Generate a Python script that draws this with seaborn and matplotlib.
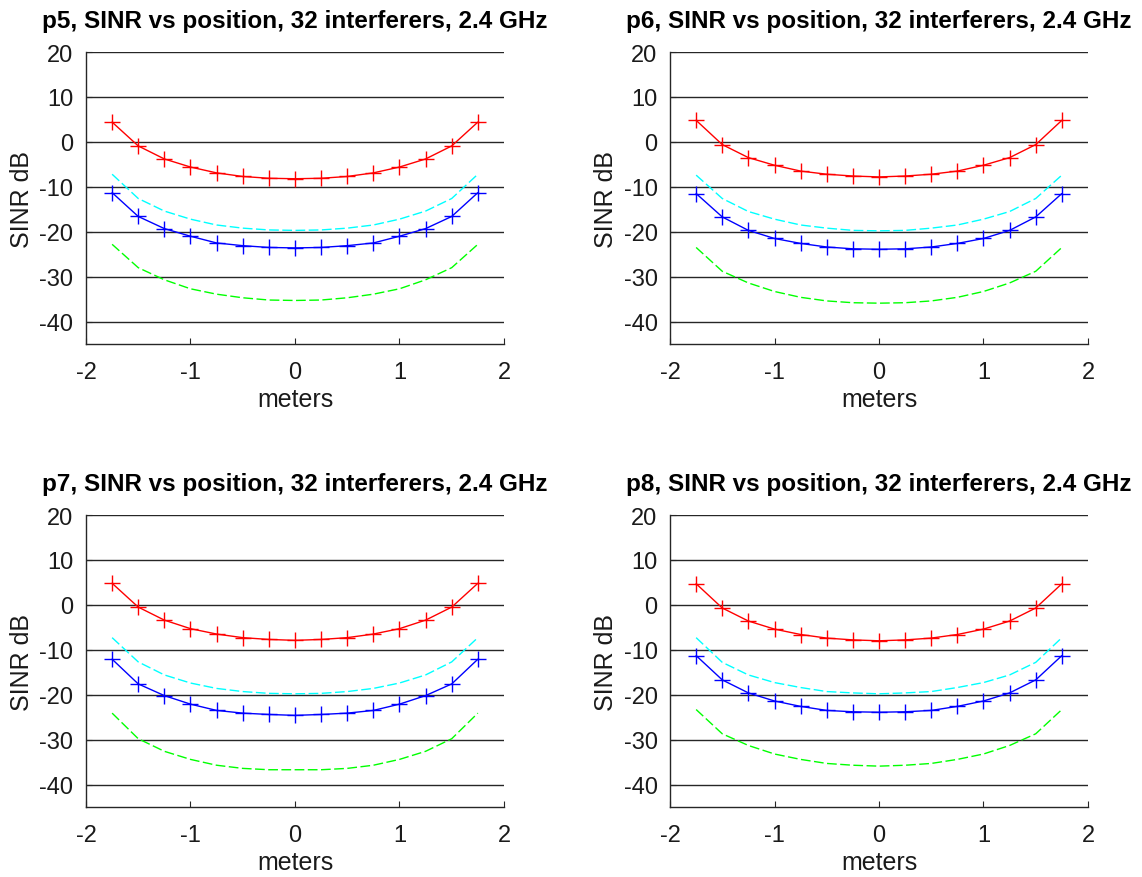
import numpy as np
import pandas as pd
import matplotlib
matplotlib.use("Agg")
import matplotlib.pyplot as plt
import seaborn as sns

positions = [-1.75, -1.5, -1.25, -1.0, -0.75, -0.5, -0.25, 0.0, 0.25, 0.5, 0.75, 1.0, 1.25, 1.5, 1.75]

panel_titles = ["p5, SINR vs position, 32 interferers, 2.4 GHz",
                "p6, SINR vs position, 32 interferers, 2.4 GHz",
                "p7, SINR vs position, 32 interferers, 2.4 GHz",
                "p8, SINR vs position, 32 interferers, 2.4 GHz"]

red_p5 = [4.4, -0.9, -3.8, -5.6, -6.9, -7.7, -8.1, -8.2, -8.1, -7.7, -6.9, -5.6, -3.8, -0.9, 4.4]
blue_p5 = [-11.3, -16.6, -19.3, -21.0, -22.5, -23.1, -23.5, -23.6, -23.5, -23.1, -22.5, -21.0, -19.3, -16.6, -11.3]
cyan_p5 = [-7.2, -12.6, -15.4, -17.2, -18.5, -19.2, -19.6, -19.7, -19.6, -19.2, -18.5, -17.2, -15.4, -12.6, -7.2]
green_p5 = [-22.8, -28.0, -30.7, -32.7, -33.9, -34.7, -35.2, -35.3, -35.2, -34.7, -33.9, -32.7, -30.7, -28.0, -22.8]

red_p6 = [4.8, -0.6, -3.5, -5.2, -6.5, -7.2, -7.6, -7.8, -7.6, -7.2, -6.5, -5.2, -3.5, -0.6, 4.8]
blue_p6 = [-11.5, -16.7, -19.7, -21.5, -22.6, -23.4, -23.8, -23.9, -23.8, -23.4, -22.6, -21.5, -19.7, -16.7, -11.5]
cyan_p6 = [-7.4, -12.6, -15.5, -17.2, -18.5, -19.2, -19.7, -19.8, -19.7, -19.2, -18.5, -17.2, -15.5, -12.6, -7.4]
green_p6 = [-23.5, -28.8, -31.4, -33.3, -34.6, -35.4, -35.8, -35.9, -35.8, -35.4, -34.6, -33.3, -31.4, -28.8, -23.5]

red_p7 = [4.8, -0.5, -3.4, -5.3, -6.5, -7.3, -7.7, -7.9, -7.7, -7.3, -6.5, -5.3, -3.4, -0.5, 4.8]
blue_p7 = [-12.1, -17.6, -20.2, -22.1, -23.5, -24.1, -24.4, -24.6, -24.4, -24.1, -23.5, -22.1, -20.2, -17.6, -12.1]
cyan_p7 = [-7.3, -12.7, -15.6, -17.4, -18.6, -19.3, -19.7, -19.8, -19.7, -19.3, -18.6, -17.4, -15.6, -12.7, -7.3]
green_p7 = [-24.1, -29.8, -32.6, -34.4, -35.7, -36.4, -36.7, -36.7, -36.7, -36.4, -35.7, -34.4, -32.6, -29.8, -24.1]

red_p8 = [4.7, -0.7, -3.6, -5.4, -6.6, -7.4, -7.8, -8.0, -7.8, -7.4, -6.6, -5.4, -3.6, -0.7, 4.7]
blue_p8 = [-11.3, -16.7, -19.6, -21.4, -22.6, -23.5, -23.8, -23.9, -23.8, -23.5, -22.6, -21.4, -19.6, -16.7, -11.3]
cyan_p8 = [-7.3, -12.8, -15.6, -17.3, -18.4, -19.3, -19.6, -19.8, -19.6, -19.3, -18.4, -17.3, -15.6, -12.8, -7.3]
green_p8 = [-23.3, -28.7, -31.3, -33.2, -34.4, -35.3, -35.7, -35.9, -35.7, -35.3, -34.4, -33.2, -31.3, -28.7, -23.3]

x_ticks = [-2, -1, 0, 1, 2]
y_ticks = [-40, -30, -20, -10, 0, 10, 20]

sns.set_theme(style="white")
plt.rcParams['font.family'] = ['Liberation Sans', 'DejaVu Sans']

panels = [
    (red_p5, blue_p5, cyan_p5, green_p5),
    (red_p6, blue_p6, cyan_p6, green_p6),
    (red_p7, blue_p7, cyan_p7, green_p7),
    (red_p8, blue_p8, cyan_p8, green_p8),
]

fig = plt.figure(figsize=(11.42, 8.78), dpi=100)
lefts = [0.0753, 0.5867]
bottoms = [0.607, 0.0797]
w, h = 0.366, 0.3326

dark = "#262626"
txt = "#1a1a1a"
for i, (red, blue, cyan, green) in enumerate(panels):
    r, c = divmod(i, 2)
    ax = fig.add_axes([lefts[c], bottoms[r], w, h])
    df = pd.DataFrame({"x": positions, "red": red, "blue": blue, "cyan": cyan, "green": green})
    sns.lineplot(data=df, x="x", y="red", ax=ax, color=(1, 0, 0), lw=1.0,
                 marker="+", markersize=11, markeredgewidth=1.0,
                 markeredgecolor=(1, 0, 0), sort=False)
    sns.lineplot(data=df, x="x", y="cyan", ax=ax, color=(0, 1, 1), lw=1.0,
                 linestyle=(0, (7, 2.5)), sort=False)
    sns.lineplot(data=df, x="x", y="blue", ax=ax, color=(0, 0, 1), lw=1.0,
                 marker="+", markersize=11, markeredgewidth=1.0,
                 markeredgecolor=(0, 0, 1), sort=False)
    sns.lineplot(data=df, x="x", y="green", ax=ax, color=(0, 1, 0), lw=1.0,
                 linestyle=(0, (7, 2.5)), sort=False)
    ax.set_xlim(-2, 2)
    ax.set_ylim(-45, 20)
    ax.set_xticks(x_ticks)
    ax.set_yticks(y_ticks)
    ax.set_xticklabels([str(t) for t in x_ticks])
    ax.set_yticklabels([str(t) for t in y_ticks])
    ax.yaxis.grid(True, color=dark, lw=1.0)
    ax.xaxis.grid(False)
    ax.set_axisbelow(True)
    for s in ["top", "right"]:
        ax.spines[s].set_visible(False)
    for s in ["left", "bottom"]:
        ax.spines[s].set_color(dark)
        ax.spines[s].set_linewidth(1.0)
    ax.tick_params(axis="both", direction="in", length=4, width=0.8, color=dark,
                   labelsize=17, labelcolor=txt)
    ax.tick_params(axis="x", pad=12, bottom=True)
    ax.tick_params(axis="y", pad=9, left=True)
    ax.set_xlabel("meters", fontsize=18, color=txt, labelpad=3)
    ax.set_ylabel("SINR dB", fontsize=18, color=txt, labelpad=4)
    ax.set_title(panel_titles[i], fontsize=17.5, fontweight="bold", color="black", pad=18)

fig.savefig("out.png", dpi=100)
